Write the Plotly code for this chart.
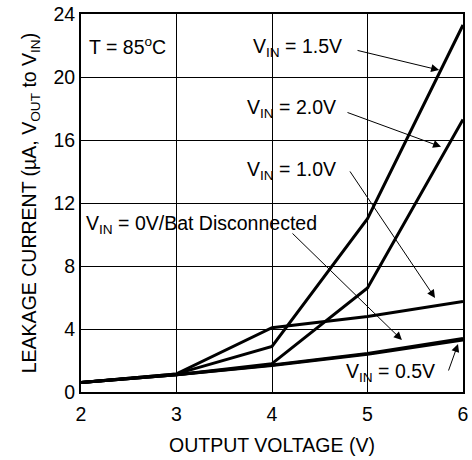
import plotly.graph_objects as go

vout = [2, 3, 4, 5, 6]
i_vin_1v5 = [0.6, 1.15, 2.9, 11.0, 23.3]
i_vin_2v0 = [0.6, 1.1, 1.8, 6.6, 17.3]
i_vin_1v0 = [0.6, 1.15, 4.08, 4.8, 5.75]
i_vin_0v5 = [0.6, 1.1, 1.72, 2.45, 3.4]
i_vin_0v = [0.6, 1.1, 1.68, 2.4, 3.3]

x_ticks = [2, 3, 4, 5, 6]
y_ticks = [0, 4, 8, 12, 16, 20, 24]

FONT = "Liberation Sans, Arial, sans-serif"
FS = 19.5

fig = go.Figure()
for ys in [i_vin_0v, i_vin_0v5, i_vin_1v0, i_vin_2v0, i_vin_1v5]:
    fig.add_trace(go.Scatter(x=vout, y=ys, mode="lines",
                             line=dict(color="black", width=3),
                             showlegend=False, hoverinfo="skip"))

texts = [
    ("T = 85<sup>o</sup>C", 2.063, 22.0),
    ("V<sub>IN</sub> = 1.5V", 3.78, 21.9),
    ("V<sub>IN</sub> = 2.0V", 3.715, 18.0),
    ("V<sub>IN</sub> = 1.0V", 3.715, 14.05),
    ("V<sub>IN</sub> = 0V/Bat Disconnected", 2.035, 10.65),
    ("V<sub>IN</sub> = 0.5V", 4.75, 1.25),
]
for t, x, y in texts:
    fig.add_annotation(x=x, y=y, text=t, showarrow=False, xanchor="left",
                       yanchor="middle", font=dict(size=FS, color="black", family=FONT))

arrows = [
    (4.88, 21.71, 5.75, 20.44),
    (4.775, 17.78, 5.77, 15.57),
    (4.806, 14.1, 5.707, 5.97),
    (4.199, 10.16, 5.36, 3.30),
    (5.843, 1.27, 5.948, 3.05),
]
for x0, y0, x1, y1 in arrows:
    fig.add_annotation(x=x1, y=y1, ax=x0, ay=y0, xref="x", yref="y",
                       axref="x", ayref="y", text="", showarrow=True,
                       arrowhead=2, arrowsize=1.6, arrowwidth=1, arrowcolor="black")

fig.update_xaxes(range=[2, 6], tickvals=x_ticks, showgrid=True, gridcolor="black",
                 gridwidth=1, zeroline=False, showline=True, linecolor="black",
                 linewidth=2, mirror=True, ticks="", ticklabelstandoff=4, automargin=False,
                 tickfont=dict(size=FS, color="black"),
                 title=dict(text="OUTPUT VOLTAGE (V)", font=dict(size=FS, color="black"), standoff=14))
fig.update_yaxes(range=[0, 24], tickvals=y_ticks, showgrid=True, gridcolor="black",
                 gridwidth=1, zeroline=False, showline=True, linecolor="black",
                 linewidth=2, mirror=True, ticks="", automargin=False,
                 tickfont=dict(size=FS, color="black"),
                 title=dict(text="LEAKAGE CURRENT (µA, V<sub>OUT</sub> to V<sub>IN</sub>)",
                            font=dict(size=FS, color="black"), standoff=12))

fig.update_layout(width=472, height=460, margin=dict(l=81, r=9, t=14, b=68),
                  paper_bgcolor="white", plot_bgcolor="white",
                  font=dict(family=FONT, color="black"))

fig.write_html("out.html", config={"displayModeBar": False},
               post_script="document.body.style.margin='0';document.body.style.padding='0';")
